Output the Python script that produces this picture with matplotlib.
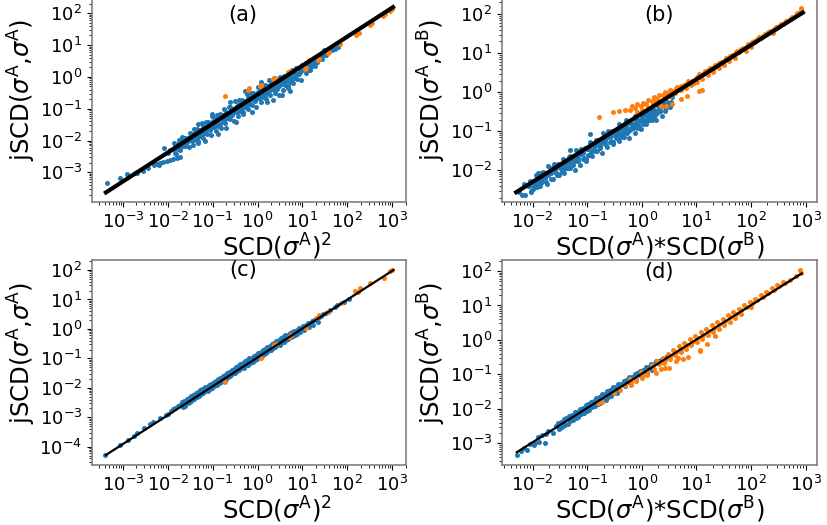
import numpy as np
import matplotlib
matplotlib.use("Agg")
import matplotlib.pyplot as plt
from matplotlib.ticker import LogLocator

# all values below are log10 of (x, y)

# (a) jSCD(A,A) vs SCD(A)^2, before correction
a_blue = [
    (-3.36, -3.33), (-3.07, -3.19), (-2.90, -3.05), (-2.73, -3.03), (-2.69, -3.01), (-2.55, -2.95),
    (-2.44, -2.87), (-2.30, -2.78), (-2.20, -2.77),
    (-2.25, -2.73), (-2.17, -2.71), (-2.10, -2.68), (-2.02, -2.64), (-1.95, -2.62), (-1.88, -2.59),
    (-1.80, -2.56), (-1.72, -2.52),
    (-2.09, -2.22), (-1.87, -2.09), (-1.76, -2.07), (-1.69, -1.88), (-2.00, -2.38), (-1.95, -2.30),
    (-1.84, -2.14), (-1.87, -2.25), (-1.83, -2.39),
    (-1.81, -2.15), (-1.78, -2.28), (-1.82, -2.43),
    (-1.74, -1.98), (-1.77, -2.13), (-1.73, -2.21),
    (-1.71, -2.03), (-1.68, -2.15), (-1.72, -2.29),
    (-1.64, -1.92), (-1.67, -2.16), (-1.63, -2.05),
    (-1.61, -1.91), (-1.58, -2.03), (-1.62, -2.17),
    (-1.54, -1.93), (-1.57, -2.05), (-1.53, -2.20),
    (-1.51, -1.75), (-1.48, -1.90), (-1.52, -1.99),
    (-1.44, -1.78), (-1.47, -1.94), (-1.43, -2.15),
    (-1.41, -1.64), (-1.38, -1.98), (-1.42, -1.82),
    (-1.34, -1.64), (-1.37, -1.81), (-1.33, -2.01),
    (-1.31, -1.68), (-1.28, -1.86), (-1.32, -2.07),
    (-1.24, -1.45), (-1.27, -1.66), (-1.23, -1.78),
    (-1.21, -1.55), (-1.18, -1.71), (-1.22, -1.92),
    (-1.14, -1.41), (-1.17, -1.75), (-1.13, -1.59),
    (-1.11, -1.41), (-1.08, -1.58), (-1.12, -1.78),
    (-1.04, -1.45), (-1.07, -1.63), (-1.03, -1.84),
    (-1.01, -1.23), (-0.98, -1.44), (-1.02, -1.56),
    (-0.94, -1.32), (-0.97, -1.48), (-0.93, -1.69),
    (-0.91, -1.19), (-0.88, -1.53), (-0.92, -1.37),
    (-0.84, -1.18), (-0.87, -1.35), (-0.83, -1.55),
    (-0.81, -1.23), (-0.78, -1.41), (-0.82, -1.62),
    (-0.74, -1.00), (-0.77, -1.21), (-0.73, -1.33),
    (-0.71, -1.09), (-0.68, -1.25), (-0.72, -1.46),
    (-0.64, -0.96), (-0.67, -1.30), (-0.63, -1.14),
    (-0.61, -0.95), (-0.58, -1.12), (-0.62, -1.32),
    (-0.54, -1.00), (-0.57, -1.18), (-0.53, -1.39),
    (-0.51, -0.77), (-0.48, -0.98), (-0.52, -1.10),
    (-0.44, -0.87), (-0.47, -1.03), (-0.43, -1.24),
    (-0.41, -0.73), (-0.38, -1.07), (-0.42, -0.91),
    (-0.34, -0.73), (-0.37, -0.90), (-0.33, -1.10),
    (-0.31, -0.77), (-0.28, -0.95), (-0.32, -1.16),
    (-0.24, -0.55), (-0.27, -0.76), (-0.23, -0.88),
    (-0.21, -0.64), (-0.18, -0.80), (-0.22, -1.01),
    (-0.14, -0.50), (-0.17, -0.84), (-0.13, -0.68),
    (-0.11, -0.50), (-0.08, -0.67), (-0.12, -0.87),
    (-0.04, -0.54), (-0.07, -0.72), (-0.03, -0.93),
    (0.01, -0.32), (0.02, -0.53), (-0.02, -0.65),
    (0.06, -0.41), (0.03, -0.57), (0.07, -0.78),
    (0.09, -0.28), (0.12, -0.62), (0.08, -0.46),
    (0.16, -0.27), (0.13, -0.44), (0.17, -0.64),
    (0.19, -0.32), (0.22, -0.50), (0.18, -0.71),
    (0.26, -0.09), (0.23, -0.30), (0.27, -0.42),
    (0.29, -0.19), (0.32, -0.35), (0.28, -0.56),
    (0.36, -0.05), (0.33, -0.39), (0.37, -0.23),
    (0.39, -0.18), (0.42, -0.33), (0.38, -0.51),
    (0.46, -0.22), (0.43, -0.38), (0.47, -0.57),
    (0.49, -0.01), (0.52, -0.20), (0.48, -0.30),
    (0.56, -0.09), (0.53, -0.23), (0.57, -0.42),
    (0.59, 0.04), (0.62, -0.27), (0.58, -0.12),
    (0.66, 0.05), (0.63, -0.11), (0.67, -0.29),
    (0.69, 0.01), (0.72, -0.15), (0.68, -0.34),
    (0.76, 0.22), (0.73, 0.03), (0.77, -0.08),
    (0.79, 0.14), (0.82, -0.01), (0.78, -0.19),
    (0.86, 0.27), (0.83, -0.04), (0.87, 0.10),
    (0.89, 0.28), (0.92, 0.12), (0.88, -0.06),
    (0.96, 0.24), (0.93, 0.08), (0.97, -0.11),
    (0.99, 0.38), (1.02, 0.25), (0.98, 0.18),
    (1.06, 0.34), (1.03, 0.24), (1.07, 0.11),
    (1.09, 0.44), (1.12, 0.23), (1.08, 0.33),
    (1.16, 0.46), (1.13, 0.36), (1.17, 0.24),
    (1.19, 0.45), (1.22, 0.34), (1.18, 0.22),
    (1.26, 0.60), (1.23, 0.48), (1.27, 0.40),
    (1.29, 0.56), (1.32, 0.47), (1.28, 0.34),
    (1.36, 0.66), (1.33, 0.46), (1.37, 0.56),
    (1.39, 0.69), (1.42, 0.58),
    (1.46, 0.68), (1.43, 0.57),
    (1.49, 0.83), (1.52, 0.70),
    (1.56, 0.79), (1.59, 0.89),
    (1.67, 0.85), (1.72, 0.88), (1.80, 0.95),
    (-1.02, -1.17), (-0.88, -1.78), (-0.62, -0.80), (-0.48, -1.43), (-0.27, -0.45), (-0.12, -1.09),
    (0.08, -0.16), (0.22, -0.80), (0.55, -0.58), (0.72, -0.45), (-1.32, -1.48), (-1.18, -2.02),
    (0.35, -0.72), (-0.70, -1.62),
    # dense core along the fit
    (-1.49, -1.85), (-1.46, -2.02), (-1.39, -1.76), (-1.36, -1.93),
    (-1.29, -1.67), (-1.26, -1.84), (-1.19, -1.58), (-1.16, -1.75),
    (-1.09, -1.49), (-1.06, -1.66), (-0.99, -1.39), (-0.96, -1.56),
    (-0.89, -1.30), (-0.86, -1.47), (-0.79, -1.21), (-0.76, -1.38),
    (-0.69, -1.12), (-0.66, -1.29), (-0.59, -1.03), (-0.56, -1.20),
    (-0.49, -0.94), (-0.46, -1.11), (-0.39, -0.85), (-0.36, -1.02),
    (-0.29, -0.76), (-0.26, -0.93), (-0.19, -0.67), (-0.16, -0.84),
    (-0.09, -0.58), (-0.06, -0.75), (0.01, -0.49), (0.04, -0.66),
    (0.11, -0.39), (0.14, -0.56), (0.21, -0.30), (0.24, -0.47),
    (0.31, -0.21), (0.34, -0.38), (0.41, -0.17), (0.44, -0.30),
    (0.51, -0.08), (0.54, -0.21), (0.61, 0.01), (0.64, -0.12),
    (0.71, 0.10), (0.74, -0.03), (0.81, 0.19), (0.84, 0.06),
    (0.91, 0.28), (0.94, 0.15), (1.01, 0.35), (1.04, 0.25),
    (1.11, 0.44), (1.14, 0.34), (1.21, 0.53), (1.24, 0.43),
    (1.31, 0.62), (1.34, 0.52),
]
a_orange = [
    (-0.72, -0.60), (-0.22, -0.40), (-0.18, -0.36), (0.05, -0.30), (0.08, -0.26), (0.35, -0.08),
    (0.40, -0.03), (0.68, 0.14), (0.72, 0.18), (1.05, 0.26), (1.08, 0.29), (1.14, 0.53), (1.35, 0.53),
    (1.38, 0.56), (1.57, 0.74), (1.60, 0.77), (1.84, 1.02), (2.20, 1.33), (2.26, 1.37), (2.50, 1.62),
    (2.55, 1.68), (2.80, 1.92), (2.85, 1.98), (2.95, 2.08), (3.00, 2.12),
]
a_fit = [(-3.38, -3.63), (3.02, 2.19)]

# (b) jSCD(A,B) vs SCD(A)*SCD(B), before correction
b_blue = [
    (-2.20, -2.64), (-2.25, -2.55), (-2.14, -2.62), (-2.09, -2.41), (-1.99, -2.47), (-1.90, -2.08),
    (-1.32, -1.49), (-0.95, -1.08), (-2.15, -2.35),
    (-2.04, -2.27), (-2.07, -2.39), (-2.03, -2.53),
    (-2.01, -2.29), (-1.98, -2.41), (-2.02, -2.56),
    (-1.94, -2.12), (-1.97, -2.26), (-1.93, -2.35),
    (-1.91, -2.17), (-1.88, -2.28), (-1.92, -2.43),
    (-1.84, -2.06), (-1.87, -2.30), (-1.83, -2.19),
    (-1.81, -2.05), (-1.78, -2.17), (-1.82, -2.31),
    (-1.74, -2.07), (-1.77, -2.19), (-1.73, -2.34),
    (-1.71, -1.90), (-1.68, -2.04), (-1.72, -2.13),
    (-1.64, -1.95), (-1.67, -2.06), (-1.63, -2.21),
    (-1.61, -1.84), (-1.58, -2.08), (-1.62, -1.97),
    (-1.54, -1.83), (-1.57, -1.95), (-1.53, -2.09),
    (-1.51, -1.85), (-1.48, -1.97), (-1.52, -2.12),
    (-1.44, -1.70), (-1.47, -1.87), (-1.43, -1.97),
    (-1.41, -1.77), (-1.38, -1.90), (-1.42, -2.07),
    (-1.34, -1.66), (-1.37, -1.93), (-1.33, -1.80),
    (-1.31, -1.64), (-1.28, -1.78), (-1.32, -1.94),
    (-1.24, -1.67), (-1.27, -1.82), (-1.23, -1.98),
    (-1.21, -1.48), (-1.18, -1.65), (-1.22, -1.75),
    (-1.14, -1.55), (-1.17, -1.68), (-1.13, -1.85),
    (-1.11, -1.44), (-1.08, -1.71), (-1.12, -1.58),
    (-1.04, -1.43), (-1.07, -1.56), (-1.03, -1.72),
    (-1.01, -1.45), (-0.98, -1.60), (-1.02, -1.77),
    (-0.94, -1.27), (-0.97, -1.43), (-0.93, -1.53),
    (-0.91, -1.33), (-0.88, -1.46), (-0.92, -1.63),
    (-0.84, -1.22), (-0.87, -1.49), (-0.83, -1.36),
    (-0.81, -1.21), (-0.78, -1.34), (-0.82, -1.50),
    (-0.74, -1.23), (-0.77, -1.38), (-0.73, -1.55),
    (-0.71, -1.05), (-0.68, -1.21), (-0.72, -1.31),
    (-0.64, -1.11), (-0.67, -1.24), (-0.63, -1.41),
    (-0.61, -1.00), (-0.58, -1.27), (-0.62, -1.14),
    (-0.54, -0.99), (-0.57, -1.12), (-0.53, -1.28),
    (-0.51, -1.02), (-0.48, -1.16), (-0.52, -1.33),
    (-0.44, -1.00), (-0.47, -1.12), (-0.43, -1.19),
    (-0.41, -1.04), (-0.38, -1.13), (-0.42, -1.26),
    (-0.34, -0.94), (-0.37, -1.14), (-0.33, -1.05),
    (-0.31, -0.92), (-0.28, -1.02), (-0.32, -1.14),
    (-0.24, -0.93), (-0.27, -1.04), (-0.23, -1.16),
    (-0.21, -0.78), (-0.18, -0.90), (-0.22, -0.97),
    (-0.14, -0.82), (-0.17, -0.91), (-0.13, -1.04),
    (-0.11, -0.72), (-0.08, -0.92), (-0.12, -0.83),
    (-0.04, -0.70), (-0.07, -0.80), (-0.03, -0.92),
    (-0.01, -0.71), (0.02, -0.82), (-0.02, -0.94),
    (0.06, -0.56), (0.03, -0.68), (0.07, -0.76),
    (0.09, -0.60), (0.12, -0.69), (0.08, -0.82),
    (0.16, -0.50), (0.13, -0.70), (0.17, -0.61),
    (0.19, -0.48), (0.22, -0.58), (0.18, -0.70),
    (0.26, -0.49), (0.23, -0.60), (0.27, -0.72),
    (0.29, -0.34), (0.32, -0.46), (0.28, -0.54),
    (0.36, -0.38), (0.33, -0.47), (0.37, -0.60),
    (0.39, -0.28), (0.42, -0.49),
    (0.46, -0.26), (0.43, -0.36),
    (0.49, -0.27), (0.52, -0.38),
    (0.56, -0.12), (0.53, -0.25),
    (-0.42, -0.80), (-0.28, -0.72), (-0.12, -0.60), (0.05, -0.48),
    # dense core along the fit
    (-1.89, -2.24), (-1.86, -2.39), (-1.79, -2.15), (-1.76, -2.30),
    (-1.69, -2.06), (-1.66, -2.21), (-1.59, -1.98), (-1.56, -2.13),
    (-1.49, -1.89), (-1.46, -2.04), (-1.39, -1.80), (-1.36, -1.95),
    (-1.29, -1.71), (-1.26, -1.86), (-1.19, -1.62), (-1.16, -1.77),
    (-1.09, -1.54), (-1.06, -1.69), (-0.99, -1.45), (-0.96, -1.60),
    (-0.89, -1.36), (-0.86, -1.51), (-0.79, -1.27), (-0.76, -1.42),
    (-0.69, -1.19), (-0.66, -1.34), (-0.59, -1.10), (-0.56, -1.25),
    (-0.49, -1.05), (-0.46, -1.18), (-0.39, -0.96), (-0.36, -1.09),
    (-0.29, -0.87), (-0.26, -1.00), (-0.19, -0.78), (-0.16, -0.91),
    (-0.09, -0.70), (-0.06, -0.83), (0.01, -0.61), (0.04, -0.74),
    (0.11, -0.52), (0.14, -0.65), (0.21, -0.44), (0.24, -0.57),
    (0.31, -0.35), (0.34, -0.48), (0.41, -0.27), (0.44, -0.40),
]
b_orange = [
    (-0.79, -0.63), (-0.53, -0.51), (-0.41, -0.48), (-0.30, -0.45),
    (-0.18, -0.36), (-0.22, -0.45),
    (-0.08, -0.30), (-0.12, -0.40), (-0.09, -0.50),
    (0.02, -0.27), (-0.02, -0.36), (0.01, -0.45),
    (0.12, -0.20), (0.08, -0.30), (0.11, -0.39),
    (0.22, -0.12), (0.18, -0.22), (0.21, -0.31),
    (0.32, -0.07), (0.28, -0.16), (0.31, -0.24), (0.35, -0.36),
    (0.42, 0.01), (0.38, -0.08), (0.41, -0.16), (0.44, -0.34),
    (0.52, 0.06), (0.48, -0.02), (0.51, -0.09), (0.55, -0.30),
    (0.62, 0.11), (0.58, 0.04), (0.61, -0.02),
    (0.72, 0.17), (0.68, 0.11), (0.71, 0.05), (0.71, -0.16),
    (0.82, 0.24), (0.78, 0.18), (0.81, 0.12), (0.83, -0.10),
    (0.92, 0.30), (0.88, 0.25), (0.91, 0.19),
    (1.02, 0.38), (0.98, 0.32), (1.01, 0.26), (1.05, 0.04),
    (1.12, 0.47), (1.08, 0.41), (1.11, 0.35), (1.10, 0.06),
    (1.22, 0.56), (1.18, 0.50), (1.21, 0.44),
    (1.32, 0.65), (1.28, 0.59), (1.31, 0.53),
    (1.42, 0.74), (1.38, 0.68), (1.41, 0.62),
    (1.52, 0.83), (1.48, 0.76), (1.51, 0.70),
    (1.62, 0.92), (1.58, 0.85),
    (1.72, 1.02), (1.68, 0.95), (1.71, 0.88),
    (1.82, 1.10), (1.78, 1.04),
    (1.92, 1.19), (1.88, 1.12), (1.91, 1.06),
    (2.02, 1.28), (1.98, 1.21),
    (2.12, 1.36), (2.08, 1.30),
    (2.22, 1.45), (2.18, 1.39),
    (2.32, 1.54), (2.28, 1.48),
    (2.42, 1.62), (2.38, 1.56),
    (2.52, 1.71), (2.48, 1.65),
    (2.62, 1.80), (2.58, 1.74),
    (2.72, 1.88), (2.82, 1.97),
    (2.92, 2.15), (2.90, 2.05),
    (0.25, -0.20), (0.45, -0.03), (0.65, 0.13), (0.85, 0.30), (1.05, 0.46), (1.15, 0.55),
    (1.25, 0.61), (1.35, 0.70), (1.45, 0.78), (1.55, 0.88), (1.65, 0.96), (1.75, 1.06),
    (1.85, 1.13), (1.95, 1.23), (2.05, 1.31), (2.15, 1.41), (2.25, 1.48), (2.35, 1.58),
    (2.45, 1.66), (2.55, 1.76), (2.65, 1.83), (2.75, 1.93), (2.85, 2.02),
    (1.60, 0.80), (2.00, 1.16), (2.40, 1.53), (1.30, 0.55), (0.95, 0.25),
]
b_fit = [(-2.30, -2.56), (2.95, 2.04)]

# (c) jSCD(A,A) vs SCD(A)^2, after correction
c_blue = [
    (-3.40, -4.28), (-3.06, -3.94), (-2.89, -3.77), (-2.76, -3.63), (-2.69, -3.54), (-2.52, -3.38),
    (-2.39, -3.24), (-2.32, -3.17), (-2.17, -3.02), (-2.05, -2.92), (-2.00, -2.88),
    (-1.88, -2.72), (-1.93, -2.80),
    (-1.78, -2.60), (-1.83, -2.70),
    (-1.68, -2.49), (-1.73, -2.57), (-1.66, -2.65),
    (-1.58, -2.39), (-1.63, -2.46), (-1.56, -2.53), (-1.61, -2.60),
    (-1.48, -2.28), (-1.53, -2.35), (-1.46, -2.42), (-1.51, -2.49),
    (-1.38, -2.18), (-1.43, -2.25), (-1.36, -2.32), (-1.41, -2.39),
    (-1.28, -2.08), (-1.33, -2.15), (-1.26, -2.22), (-1.31, -2.29),
    (-1.18, -1.98), (-1.23, -2.05), (-1.16, -2.12), (-1.21, -2.19),
    (-1.08, -1.89), (-1.13, -1.96), (-1.06, -2.03), (-1.11, -2.10),
    (-0.98, -1.79), (-1.03, -1.86), (-0.96, -1.93), (-1.01, -2.00),
    (-0.88, -1.69), (-0.93, -1.76), (-0.86, -1.83), (-0.91, -1.90),
    (-0.78, -1.59), (-0.83, -1.66), (-0.76, -1.73), (-0.81, -1.80),
    (-0.68, -1.49), (-0.73, -1.56), (-0.66, -1.63), (-0.71, -1.70),
    (-0.58, -1.40), (-0.63, -1.47), (-0.56, -1.54), (-0.61, -1.61),
    (-0.48, -1.30), (-0.53, -1.37), (-0.46, -1.44), (-0.51, -1.51),
    (-0.38, -1.20), (-0.43, -1.27), (-0.36, -1.34), (-0.41, -1.41),
    (-0.28, -1.10), (-0.33, -1.17), (-0.26, -1.24), (-0.31, -1.31),
    (-0.18, -1.00), (-0.23, -1.07), (-0.16, -1.14), (-0.21, -1.21),
    (-0.08, -0.91), (-0.13, -0.98), (-0.06, -1.05), (-0.11, -1.12),
    (0.02, -0.81), (-0.03, -0.88), (0.04, -0.95), (-0.01, -1.02),
    (0.12, -0.71), (0.07, -0.78), (0.14, -0.85), (0.09, -0.92),
    (0.22, -0.61), (0.17, -0.68), (0.24, -0.75), (0.19, -0.82),
    (0.32, -0.51), (0.27, -0.58), (0.34, -0.65), (0.29, -0.72),
    (0.42, -0.42), (0.37, -0.49), (0.44, -0.56), (0.39, -0.63),
    (0.52, -0.32), (0.47, -0.39), (0.54, -0.46), (0.49, -0.53),
    (0.62, -0.22), (0.57, -0.29), (0.64, -0.36), (0.59, -0.43),
    (0.72, -0.13), (0.67, -0.20), (0.74, -0.27), (0.69, -0.34),
    (0.82, -0.06), (0.77, -0.12), (0.84, -0.19), (0.79, -0.25),
    (0.92, 0.02), (0.87, -0.04), (0.94, -0.10), (0.89, -0.16),
    (1.02, 0.10), (0.97, 0.04), (1.04, -0.03),
    (1.12, 0.19), (1.07, 0.13), (1.14, 0.06),
    (1.22, 0.27), (1.17, 0.21), (1.24, 0.15),
    (1.32, 0.37), (1.27, 0.31), (1.34, 0.25),
    (1.42, 0.45), (1.37, 0.39),
    (1.52, 0.55), (1.47, 0.49),
    (1.62, 0.64), (1.57, 0.58),
    (1.72, 0.73), (1.78, 0.82), (1.92, 0.93), (2.03, 1.00),
]
c_orange = [
    (-0.72, -1.79), (0.07, -1.00), (0.37, -0.56), (0.42, -0.50), (0.70, -0.26), (0.74, -0.22),
    (1.07, 0.02), (1.30, 0.36), (1.37, 0.47), (1.56, 0.58), (1.86, 0.87), (2.18, 1.29), (2.23, 1.27),
    (2.29, 1.38), (2.50, 1.55), (2.81, 1.74), (2.95, 1.95), (3.00, 2.00),
]
c_fit = [(-3.38, -4.28), (3.03, 2.00)]

# (d) jSCD(A,B) vs SCD(A)*SCD(B), after correction
d_blue = [
    (-2.29, -3.34), (-2.22, -3.22), (-2.10, -3.19), (-2.15, -3.13), (-2.05, -3.02), (-1.98, -3.05),
    (-1.95, -3.00), (-1.88, -2.95), (-1.83, -2.75), (-1.77, -2.98), (-1.71, -2.65), (-1.62, -2.71),
    (-1.90, -2.82), (-1.75, -2.72),
    (-1.53, -2.42), (-1.58, -2.50), (-1.51, -2.58),
    (-1.43, -2.30), (-1.48, -2.38), (-1.41, -2.46), (-1.46, -2.53),
    (-1.33, -2.20), (-1.38, -2.28), (-1.31, -2.36), (-1.36, -2.43),
    (-1.23, -2.10), (-1.28, -2.18), (-1.21, -2.26), (-1.26, -2.33),
    (-1.13, -2.00), (-1.18, -2.08), (-1.11, -2.16), (-1.16, -2.23),
    (-1.03, -1.90), (-1.08, -1.98), (-1.01, -2.06), (-1.06, -2.13),
    (-0.93, -1.79), (-0.98, -1.87), (-0.91, -1.95), (-0.96, -2.03),
    (-0.83, -1.68), (-0.88, -1.77), (-0.81, -1.85), (-0.86, -1.93),
    (-0.73, -1.56), (-0.78, -1.66), (-0.71, -1.75), (-0.76, -1.83),
    (-0.63, -1.47), (-0.68, -1.56), (-0.61, -1.65), (-0.66, -1.73),
    (-0.53, -1.37), (-0.58, -1.46), (-0.51, -1.55), (-0.56, -1.63),
    (-0.43, -1.28), (-0.48, -1.37), (-0.41, -1.45), (-0.46, -1.53),
    (-0.33, -1.18), (-0.38, -1.27), (-0.31, -1.35),
    (-0.23, -1.08), (-0.28, -1.17), (-0.21, -1.25),
    (-0.13, -0.98), (-0.18, -1.07), (-0.11, -1.15),
    (-0.03, -0.89), (-0.08, -0.97), (-0.01, -1.05),
    (0.07, -0.80), (0.02, -0.88), (0.09, -0.96),
    (0.17, -0.71), (0.12, -0.79), (0.19, -0.87),
    (0.27, -0.62), (0.22, -0.70),
    (0.37, -0.55), (0.32, -0.62),
    (0.47, -0.47),
]
d_orange = [
    (-0.80, -1.84), (-0.72, -1.80), (-0.50, -1.55), (-0.40, -1.45), (-0.19, -1.31), (-0.10, -1.20),
    (0.00, -1.10), (0.10, -1.02), (0.26, -0.97), (0.35, -0.85), (0.42, -0.82), (0.49, -0.82),
    (0.62, -0.61), (0.67, -0.53), (0.75, -0.55), (0.85, -0.50), (1.06, -0.28), (1.07, -0.32),
    (1.20, -0.12), (1.35, 0.10),
    (-0.30, -1.30), (-0.20, -1.22), (-0.22, -1.14), (-0.10, -1.12),
    (0.02, -1.02), (-0.02, -0.94), (0.10, -0.90),
    (0.22, -0.83), (0.18, -0.74), (0.32, -0.70), (0.28, -0.62),
    (0.42, -0.58), (0.38, -0.52), (0.41, -0.66),
    (0.52, -0.47), (0.48, -0.40), (0.51, -0.56),
    (0.62, -0.36), (0.58, -0.28), (0.61, -0.45),
    (0.72, -0.25), (0.68, -0.18), (0.71, -0.36),
    (0.82, -0.15), (0.78, -0.08), (0.81, -0.26),
    (0.92, -0.05), (0.88, 0.03), (0.91, -0.16),
    (1.02, 0.05), (0.98, 0.12), (1.01, -0.06),
    (1.12, 0.15), (1.08, 0.22), (1.11, 0.03),
    (1.22, 0.25), (1.18, 0.31), (1.21, 0.13),
    (1.32, 0.35), (1.28, 0.42), (1.31, 0.22),
    (1.42, 0.45), (1.38, 0.51), (1.41, 0.33),
    (1.52, 0.55), (1.48, 0.61), (1.51, 0.42),
    (1.62, 0.66), (1.58, 0.71), (1.61, 0.53),
    (1.72, 0.76), (1.68, 0.81), (1.71, 0.64),
    (1.82, 0.86), (1.78, 0.91), (1.81, 0.74),
    (1.92, 0.96), (1.88, 1.01),
    (2.02, 1.06), (1.98, 1.11), (2.01, 0.95),
    (2.12, 1.16), (2.08, 1.20),
    (2.22, 1.26), (2.18, 1.30),
    (2.32, 1.36), (2.28, 1.40),
    (2.42, 1.46), (2.38, 1.50),
    (2.52, 1.56), (2.48, 1.59),
    (2.62, 1.66), (2.58, 1.69),
    (2.72, 1.75), (2.82, 1.85),
    (2.92, 1.95), (2.90, 2.02),
]
d_fit = [(-2.29, -3.26), (2.93, 1.93)]

# axis limits, log10
lim_a = ((-3.69, 3.31), (-3.93, 2.51))
lim_b = ((-2.56, 3.21), (-2.81, 2.44))
lim_c = ((-3.69, 3.31), (-4.62, 2.34))
lim_d = ((-2.56, 3.21), (-3.63, 2.32))

lab_AA = r'jSCD($\sigma^{\mathrm{A}}$,$\sigma^{\mathrm{A}}$)'
lab_AB = r'jSCD($\sigma^{\mathrm{A}}$,$\sigma^{\mathrm{B}}$)'
lab_sq = r'SCD($\sigma^{\mathrm{A}}$)$^2$'
lab_pr = r'SCD($\sigma^{\mathrm{A}}$)*SCD($\sigma^{\mathrm{B}}$)'

blue = '#1f77b4'
orange = '#ff7f0e'

W, H = 827, 525
fig = plt.figure(figsize=(W / 100, H / 100), dpi=100)


def panel(rect, blue_pts, orange_pts, fit, lims, tag, tag_pos, xlab, xlab_x, ylab, lw):
    l, t, r, b = rect
    ax = fig.add_axes([l / W, 1 - b / H, (r - l) / W, (b - t) / H])
    bp = 10 ** np.array(blue_pts)
    op = 10 ** np.array(orange_pts)
    fp = 10 ** np.array(fit)
    ax.scatter(bp[:, 0], bp[:, 1], s=13, color=blue, linewidths=0, zorder=2)
    ax.scatter(op[:, 0], op[:, 1], s=13, color=orange, linewidths=0, zorder=3)
    ax.plot(fp[:, 0], fp[:, 1], color='black', lw=lw, zorder=4)
    ax.set_xscale('log')
    ax.set_yscale('log')
    ax.set_xlim(10 ** lims[0][0], 10 ** lims[0][1])
    ax.set_ylim(10 ** lims[1][0], 10 ** lims[1][1])
    for axis in (ax.xaxis, ax.yaxis):
        axis.set_major_locator(LogLocator(base=10, numticks=20))
        axis.set_minor_locator(LogLocator(base=10, subs=np.arange(2, 10), numticks=20))
    ax.tick_params(labelsize=13)
    for sp in ax.spines.values():
        sp.set_color('#808080')
        sp.set_linewidth(1.2)
    ax.set_xlabel(xlab, fontsize=17.5, labelpad=0, x=xlab_x)
    ax.set_ylabel(ylab, fontsize=17.5, labelpad=1, y=0.545)
    ax.text(tag_pos[0], tag_pos[1], tag, transform=ax.transAxes, ha='center', va='center', fontsize=15)
    return ax


panel((92, -3, 406, 202), a_blue, a_orange, a_fit, lim_a, '(a)', (0.48, 0.912), lab_sq, 0.59, lab_AA, 3)
panel((502, -3, 817, 202), b_blue, b_orange, b_fit, lim_b, '(b)', (0.5, 0.912), lab_pr, 0.5, lab_AB, 3)
panel((92, 260, 406, 465), c_blue, c_orange, c_fit, lim_c, '(c)', (0.48, 0.951), lab_sq, 0.59, lab_AA, 1.6)
panel((502, 260, 817, 465), d_blue, d_orange, d_fit, lim_d, '(d)', (0.5, 0.943), lab_pr, 0.5, lab_AB, 1.6)

fig.savefig('out.png', dpi=100)
